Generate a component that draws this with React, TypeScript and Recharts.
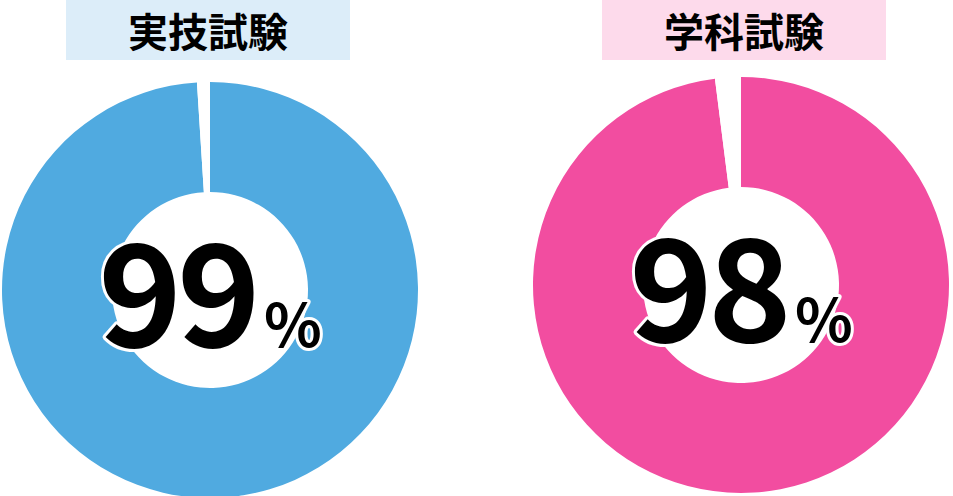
import React from 'react';
import { PieChart, Pie, Cell, Label } from 'recharts';

const titles = ['実技試験', '学科試験'];
const passRates = [99, 98];
const mainColors = ['#50AAE0', '#F24DA0'];
const titleBgColors = ['#DCEDF9', '#FDDAEB'];

const W = 953;
const H = 496;
const layouts = [
  { cx: 210, cy: 290, box: { left: 66, width: 284 } },
  { cx: 741, cy: 285, box: { left: 602, width: 284 } },
];

const fontFamily = '"Noto Sans CJK JP", "Noto Sans", sans-serif';

function makeCenterLabel(cx: number, cy: number, value: number) {
  return () => (
    <text
      x={cx}
      y={cy + 57}
      textAnchor="middle"
      fontFamily={fontFamily}
      fontWeight={700}
      fill="#000"
      stroke="#fff"
      strokeWidth={6}
      strokeLinejoin="round"
      paintOrder="stroke"
    >
      <tspan fontSize={142} letterSpacing={-5}>{value}</tspan>
      <tspan fontSize={60} dx={8}>%</tspan>
    </text>
  );
}

export default function App() {
  return (
    <div style={{ position: 'absolute', left: 0, top: 0, width: W, height: H, background: '#fff' }}>
      {titles.map((t, i) => (
        <div
          key={t}
          style={{
            position: 'absolute',
            left: layouts[i].box.left,
            top: 0,
            width: layouts[i].box.width,
            height: 60,
            background: titleBgColors[i],
            display: 'flex',
            alignItems: 'center',
            justifyContent: 'center',
            fontFamily,
            fontWeight: 700,
            fontSize: 40,
            color: '#000',
            lineHeight: 1,
          }}
        >
          {t}
        </div>
      ))}
      <div style={{ position: 'absolute', left: 0, top: 0 }}>
        <PieChart width={W} height={H} margin={{ top: 0, right: 0, bottom: 0, left: 0 }}>
          {passRates.map((v, i) => (
            <Pie
              key={i}
              data={[
                { name: '合格', value: v },
                { name: 'その他', value: 100 - v },
              ]}
              dataKey="value"
              cx={layouts[i].cx}
              cy={layouts[i].cy}
              innerRadius={98}
              outerRadius={208}
              startAngle={90}
              endAngle={-270}
              stroke="none"
              isAnimationActive={false}
            >
              <Cell fill={mainColors[i]} />
              <Cell fill="#fff" />
              <Label position="center" content={makeCenterLabel(layouts[i].cx, layouts[i].cy, v)} />
            </Pie>
          ))}
        </PieChart>
      </div>
    </div>
  );
}
